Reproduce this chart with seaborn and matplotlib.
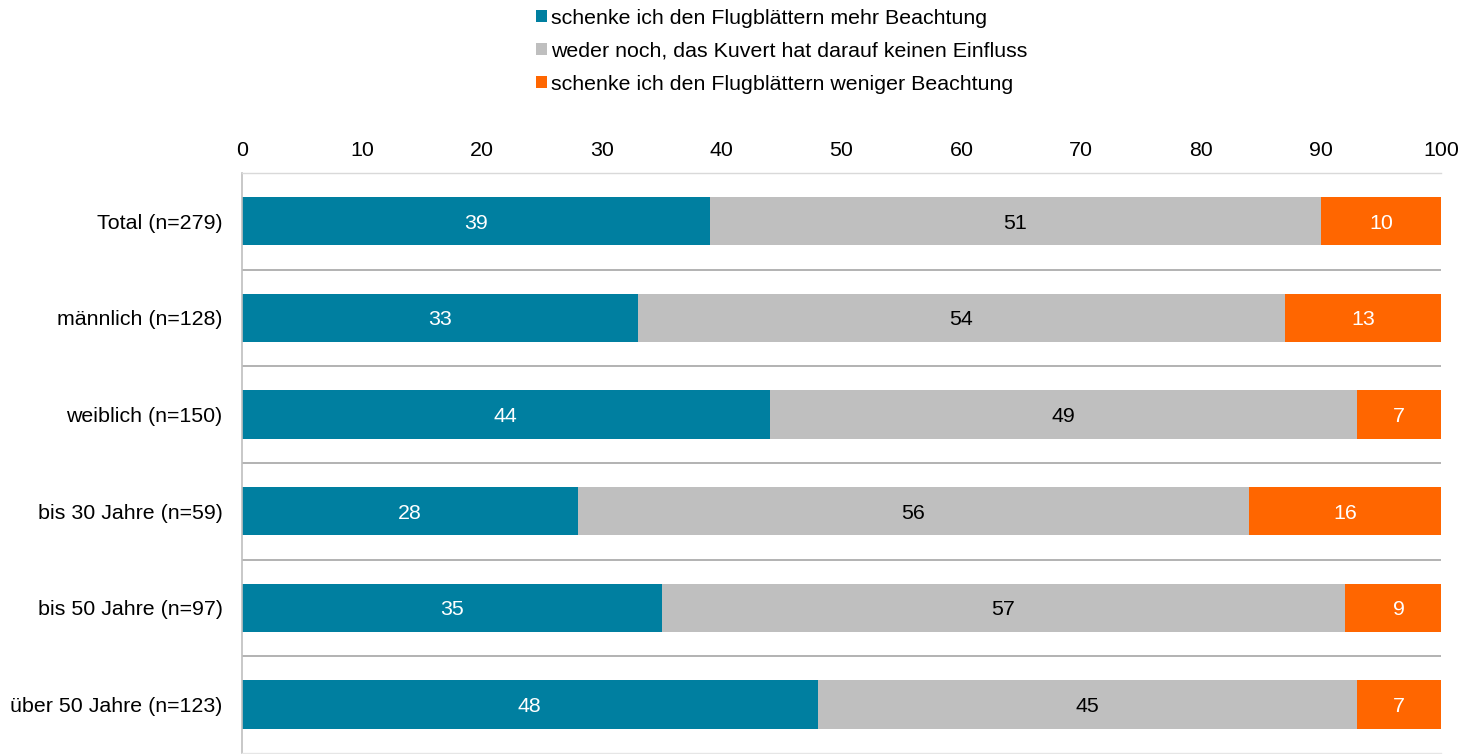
import matplotlib
matplotlib.use("Agg")
import matplotlib.pyplot as plt
from matplotlib.patches import Patch
import numpy as np
import pandas as pd
import seaborn as sns

# Survey groups and answer shares (percent)
groups = ["Total (n=279)", "männlich (n=128)", "weiblich (n=150)",
          "bis 30 Jahre (n=59)", "bis 50 Jahre (n=97)", "über 50 Jahre (n=123)"]
mehr = [39, 33, 44, 28, 35, 48]
weder = [51, 54, 49, 56, 57, 45]
weniger = [10, 13, 7, 16, 9, 7]

series_names = ["schenke ich den Flugblättern mehr Beachtung",
                "weder noch, das Kuvert hat darauf keinen Einfluss",
                "schenke ich den Flugblättern weniger Beachtung"]
colors = ["#007FA0", "#BFBFBF", "#FF6600"]
label_colors = ["white", "black", "white"]
x_ticks = [0, 10, 20, 30, 40, 50, 60, 70, 80, 90, 100]

FS = 15.4

sns.set_theme(style="white")
plt.rcParams["font.family"] = ["Liberation Sans", "DejaVu Sans"]
plt.rcParams["font.size"] = FS
plt.rcParams["text.color"] = "black"

df = pd.DataFrame({"group": groups, "mehr": mehr, "weder": weder, "weniger": weniger})
df["c1"] = df["mehr"]
df["c2"] = df["mehr"] + df["weder"]
df["c3"] = df["c2"] + df["weniger"]

fig = plt.figure(figsize=(14.7, 7.54), dpi=100)
ax = fig.add_axes([0.1646, 0.0015, 0.9803 - 0.1646, 0.7706 - 0.0015])

# Stacked bars: draw cumulative totals back to front
for col, color in zip(["c3", "c2", "c1"], colors[::-1]):
    sns.barplot(data=df, x=col, y="group", orient="h", color=color,
                width=0.5, saturation=1, ax=ax, linewidth=0)

# Segment value labels
segments = [df["mehr"].values, df["weder"].values, df["weniger"].values]
starts = [np.zeros(len(groups)), df["c1"].values, df["c2"].values]
for vals, left, tc in zip(segments, starts, label_colors):
    for i, (v, l) in enumerate(zip(vals, left)):
        ax.text(l + v / 2, i + 0.02, f"{v:g}", ha="center", va="center",
                color=tc, fontsize=FS)

ax.set_xlim(0, 100)
ax.set_ylim(len(groups) - 0.5, -0.5)
ax.set_xticks(x_ticks)
ax.xaxis.tick_top()
ax.tick_params(axis="x", length=0, pad=9.5, labelsize=FS, colors="black")
ax.tick_params(axis="y", length=0, pad=14, labelsize=FS, colors="black")
ax.set_xlabel("")
ax.set_ylabel("")

# Separators between categories
for k in range(1, len(groups)):
    ax.axhline(k - 0.5, color="#A6A6A6", lw=1.2, zorder=0)

ax.spines["right"].set_visible(False)
ax.spines["left"].set_color("#BFBFBF")
ax.spines["left"].set_linewidth(1.2)
ax.spines["top"].set_color("#D9D9D9")
ax.spines["bottom"].set_color("#E6E6E6")
ax.spines["top"].set_linewidth(1)
ax.spines["bottom"].set_linewidth(1)

handles = [Patch(facecolor=c, edgecolor="none", label=n) for c, n in zip(colors, series_names)]
fig.legend(handles=handles, loc="upper center", bbox_to_anchor=(0.532, 1.0),
           frameon=False, fontsize=FS, handlelength=0.5, handleheight=0.5,
           handletextpad=0.2, labelspacing=0.66, borderaxespad=0.0,
           labelcolor="black")

fig.savefig("out.png", dpi=100)
